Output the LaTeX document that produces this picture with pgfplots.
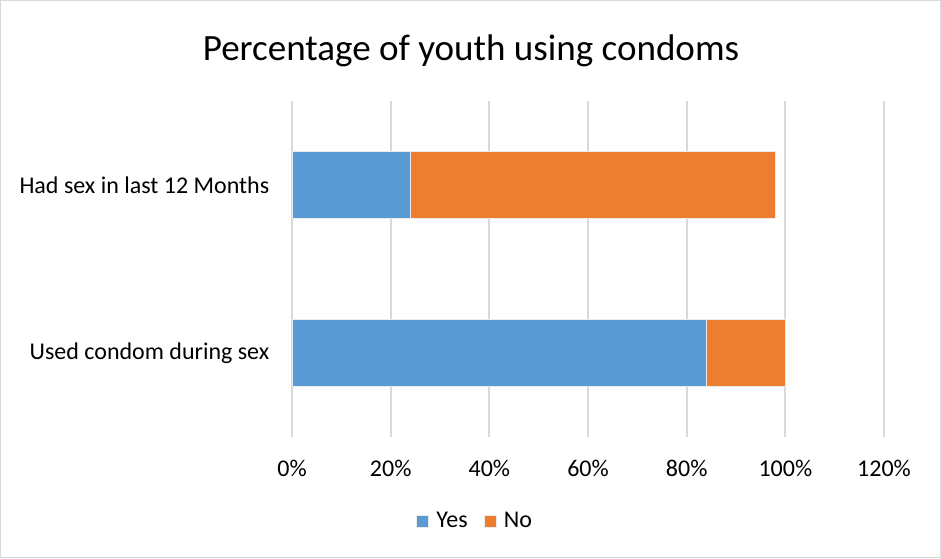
\documentclass[border=0pt]{standalone}
\usepackage{pgfplots}
\pgfplotsset{compat=1.18}
\usepackage{fontspec}
\setmainfont{Carlito}
\definecolor{cblue}{HTML}{5B9BD5}
\definecolor{corange}{HTML}{ED7D31}
\definecolor{cgrid}{HTML}{D9D9D9}
\definecolor{ctext}{HTML}{000000}
\begin{document}
\begin{tikzpicture}[x=0.75pt,y=0.75pt]
\useasboundingbox (0,0) rectangle (941,558);
\draw[cgrid, line width=0.75pt] (0.5,0.5) rectangle (940.5,557.5);
\node[font=\fontsize{27.8}{31}\selectfont, text=ctext] at (471,507) {Percentage of youth using condoms};
\begin{axis}[
  at={(292*0.75pt,121*0.75pt)}, anchor=south west,
  scale only axis, width=444pt, height=252pt,
  xbar stacked, bar width=0.4,
  xmin=0, xmax=120, ymin=-0.5, ymax=1.5,
  xtick={0,20,...,120},
  xticklabel={\pgfmathprintnumber{\tick}\%},
  /pgf/number format/assume math mode=true,
  ytick={0,1},
  yticklabels={Used condom during sex, Had sex in last 12 Months},
  ticklabel style={font=\fontsize{18}{20}\selectfont},
  xticklabel style={yshift=-14pt},
  yticklabel style={xshift=-13.5pt},
  axis line style={draw=none},
  major tick style={draw=none},
  xmajorgrids, grid style={cgrid, line width=1.5pt},
  legend style={at={(0.31,-0.25)}, anchor=center, draw=none, legend columns=2,
    font=\fontsize{18}{20}\selectfont,
    /tikz/every even column/.append style={column sep=10pt}},
  legend image code/.code={\fill[#1] (0pt,-4.5pt) rectangle (9pt,4.5pt); \path (12.5pt,0pt);},
]
\addplot[fill=cblue, draw=white!85!gray, line width=0.5pt] coordinates {(84,0) (24,1)};
\addplot[fill=corange, draw=white!85!gray, line width=0.5pt] coordinates {(16,0) (74,1)};
\legend{Yes, No}
\end{axis}
\end{tikzpicture}
\end{document}
